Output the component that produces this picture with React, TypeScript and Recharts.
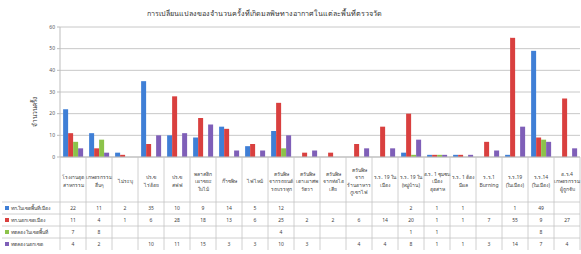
import React from 'react';
import { BarChart, Bar, XAxis, YAxis, CartesianGrid } from 'recharts';

const categories = [
  'โรงงานอุต\nสาหกรรม',
  'เกษตรกรรม\nอื่นๆ',
  'ไม่ระบุ',
  'ปร.ข\nไร่อ้อย',
  'ปร.ข\nสฟฟ',
  'พลาสติก\nเผาขยะ\nใบไม้',
  'ก๊าซพิษ',
  'ไฟไหม้',
  'ควันพิษ\nจากรถยนต์\nรถบรรทุก',
  'ควันพิษ\nเตาเผาศพ\nวัดวา',
  'ควันพิษ\nจากท่อไอ\nเสีย',
  'ควันพิษ\nจาก\nร้านอาหาร\nภูเขาไฟ',
  'ร.ร. 19 ใน\nเมือง',
  'ร.ร. 19 ใน\n(หมู่บ้าน)',
  'อ.ร. 1 ชุมชน\nเมือง\nอุตสาห',
  'ร.ร. 1 ต้อง\nมีผล',
  'ร.ร.1\nBurning',
  'ร.ร.19\n(ในเมือง)',
  'ร.ร.14\n(ในเมือง)',
  'อ.ร.4\nเกษตรกรรม\nผู้ถูกจับ',
];

const seriesNames = [
  'ทก.ในเขตพื้นที่เมือง',
  'ทก.นอกเขตเมือง',
  'ทดลอง ในเขตพื้นที่',
  'ทดลอง นอกเขต',
];

const series1 = [22, 11, 2, 35, 10, 9, 14, 5, 12, null, null, null, null, 2, 1, 1, null, 1, 49, null];
const series2 = [11, 4, 1, 6, 28, 18, 13, 6, 25, 2, 2, 6, 14, 20, 1, 1, 7, 55, 9, 27];
const series3 = [7, 8, null, null, null, null, null, null, 4, null, null, null, null, 1, 1, null, null, null, 8, null];
const series4 = [4, 2, null, 10, 11, 15, 3, 3, 10, 3, null, 4, 4, 8, 1, 1, 3, 14, 7, 4];

const yTicks = [0, 10, 20, 30, 40, 50, 60];

const colors = ['#3f7fd6', '#d9403f', '#8cc34a', '#7f5fb8'];
const title = 'การเปลี่ยนแปลงของจำนวนครั้งที่เกิดมลพิษทางอากาศในแต่ละพื้นที่ตรวจวัด';
const yLabel = 'จำนวนครั้ง';

const allSeries = [series1, series2, series3, series4];
const data = categories.map((name, i) => ({
  name,
  s1: series1[i],
  s2: series2[i],
  s3: series3[i],
  s4: series4[i],
}));

const W = 581;
const H = 254;
const PLOT_LEFT = 60;
const PLOT_RIGHT = 580;
const PLOT_TOP = 27;
const PLOT_BOTTOM = 157;
const BW = (PLOT_RIGHT - PLOT_LEFT) / categories.length;
const ROW_TOP = 202;
const ROW_H = 12;
const FONT = "Tahoma, 'Noto Sans', 'DejaVu Sans', sans-serif";
const LINE = '#c4c4c4';
const TXT = '#444';

function TableTick(props: any) {
  const { x, index, payload } = props;
  const lines = String(payload.value).split('\n');
  const headerCenter = 181;
  const lh = 7.5;
  const startY = headerCenter - ((lines.length - 1) * lh) / 2;
  const left = x - BW / 2;
  return (
    <g style={{ fontFamily: FONT }}>
      {index === 0 && (
        <g>
          {[0, 1, 2, 3].map((r) => (
            <line key={'h' + r} x1={2} x2={PLOT_RIGHT} y1={ROW_TOP + r * ROW_H} y2={ROW_TOP + r * ROW_H} stroke={LINE} strokeWidth={0.8} />
          ))}
          {seriesNames.map((s, r) => (
            <g key={'lg' + r}>
              <rect x={5} y={ROW_TOP + r * ROW_H + ROW_H / 2 - 2} width={4} height={4} fill={colors[r]} />
              <text x={11} y={ROW_TOP + r * ROW_H + ROW_H / 2 + 2} fontSize={5} fill={TXT}>{s}</text>
            </g>
          ))}
        </g>
      )}
      <line x1={left} x2={left} y1={PLOT_BOTTOM} y2={ROW_TOP + 4 * ROW_H} stroke={LINE} strokeWidth={0.8} />
      {index === categories.length - 1 && (
        <line x1={left + BW} x2={left + BW} y1={PLOT_BOTTOM} y2={ROW_TOP + 4 * ROW_H} stroke={LINE} strokeWidth={0.8} />
      )}
      {lines.map((l, k) => (
        <text key={k} x={x} y={startY + k * lh + 2} textAnchor="middle" fontSize={5} fill={TXT}>{l}</text>
      ))}
      {allSeries.map((s, r) =>
        s[index] == null ? null : (
          <text key={'v' + r} x={x} y={ROW_TOP + r * ROW_H + ROW_H / 2 + 2} textAnchor="middle" fontSize={5} fill={TXT}>{s[index]}</text>
        )
      )}
    </g>
  );
}

export default function App() {
  return (
    <div style={{ position: 'absolute', left: 0, top: 0, width: W, height: H, background: '#fff', overflow: 'hidden' }}>
      <div style={{ position: 'absolute', left: 140, width: 248, top: 8, textAlign: 'center', fontFamily: FONT, fontSize: 7.2, color: '#333', whiteSpace: 'nowrap' }}>{title}</div>
      <div style={{ position: 'absolute', left: 35, top: 112, transform: 'translate(-50%, -50%) rotate(-90deg)', fontFamily: FONT, fontSize: 6.5, color: '#333', whiteSpace: 'nowrap' }}>{yLabel}</div>
      <BarChart
        width={W}
        height={H}
        data={data}
        margin={{ top: PLOT_TOP, right: W - PLOT_RIGHT, bottom: 0, left: 0 }}
        barCategoryGap="12%"
        barGap={0}
      >
        <CartesianGrid horizontal vertical={false} stroke="#c8c8c8" />
        <XAxis
          dataKey="name"
          interval={0}
          height={H - PLOT_BOTTOM}
          tickLine={false}
          axisLine={{ stroke: '#bdbdbd' }}
          tick={(p: any) => <TableTick {...p} />}
        />
        <YAxis
          width={PLOT_LEFT}
          domain={[0, 60]}
          ticks={yTicks}
          interval={0}
          tick={{ fontSize: 5, fill: '#555', fontFamily: FONT }}
          tickLine={{ stroke: '#bdbdbd' }}
          tickSize={3}
          axisLine={{ stroke: '#bdbdbd' }}
        />
        <Bar dataKey="s1" fill={colors[0]} isAnimationActive={false} />
        <Bar dataKey="s2" fill={colors[1]} isAnimationActive={false} />
        <Bar dataKey="s3" fill={colors[2]} isAnimationActive={false} />
        <Bar dataKey="s4" fill={colors[3]} isAnimationActive={false} />
      </BarChart>
    </div>
  );
}
